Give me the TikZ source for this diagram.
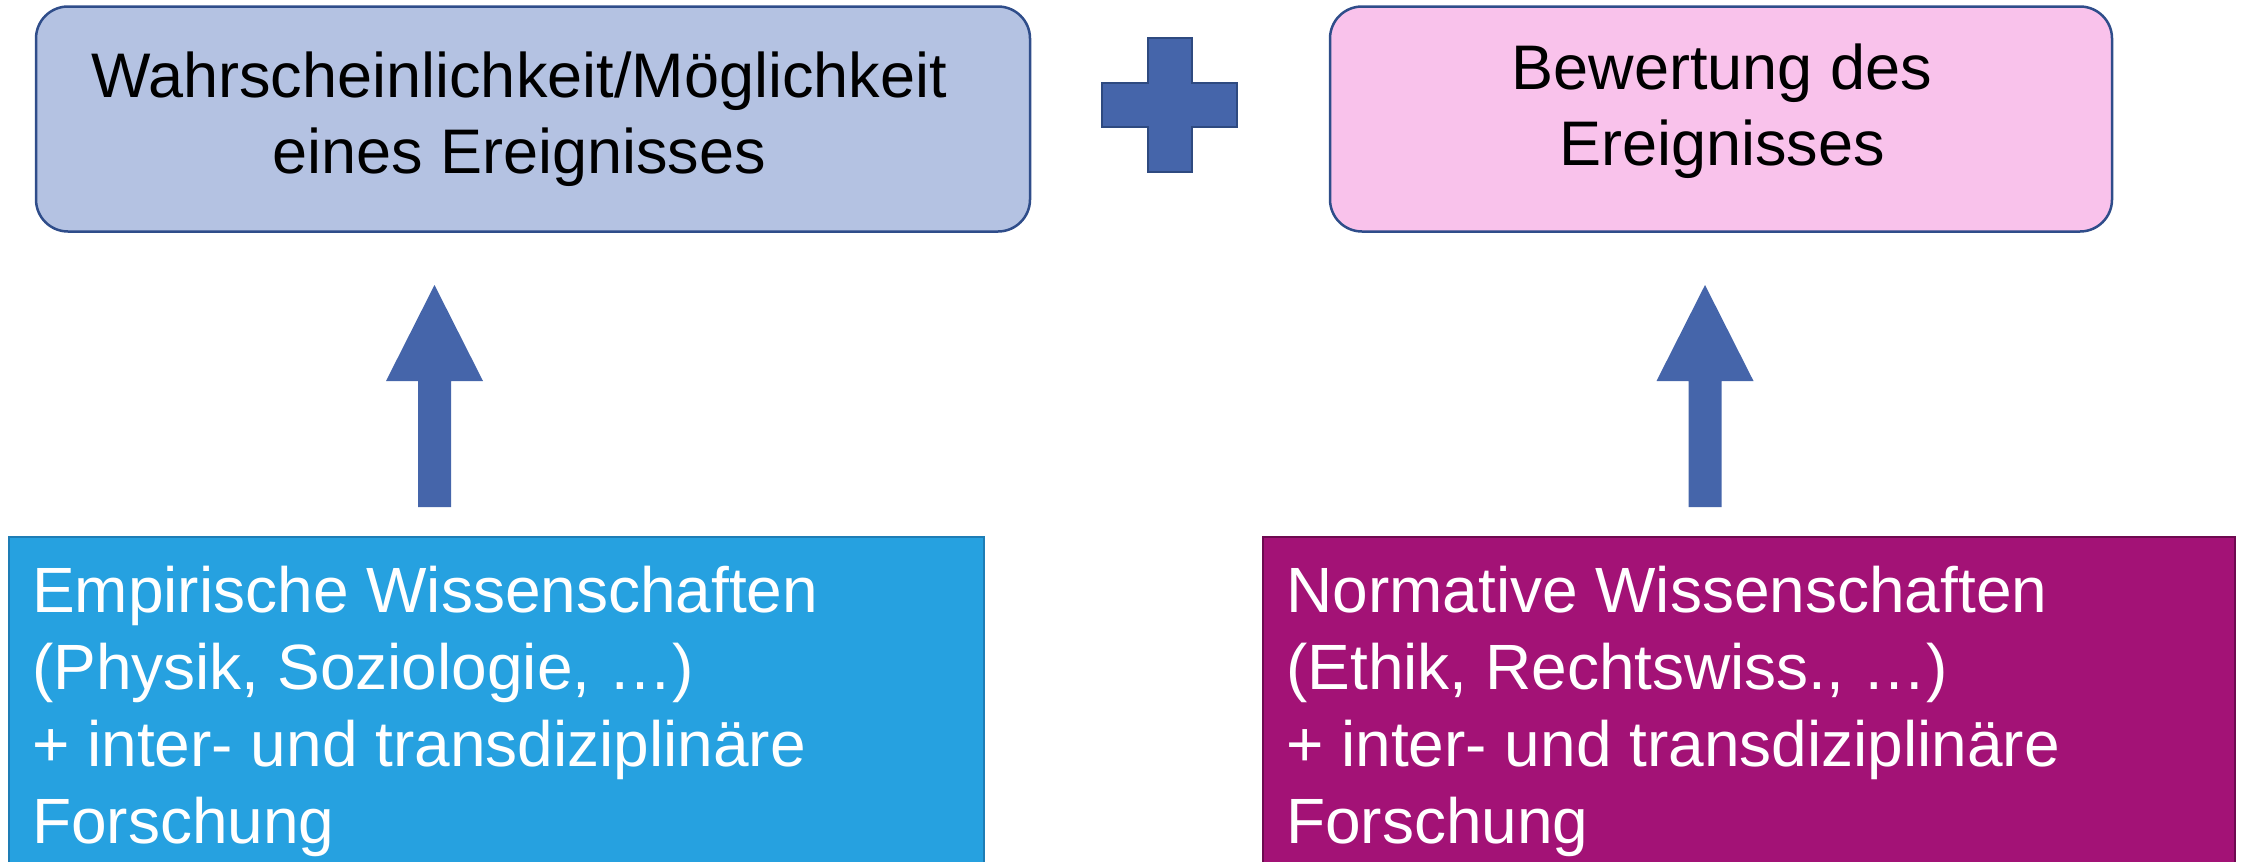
\documentclass[tikz,border=0pt]{standalone}
\usepackage{fontspec}
\setmainfont{Liberation Sans}
\usetikzlibrary{calc}
\definecolor{topblue}{HTML}{B4C2E2}
\definecolor{toppink}{HTML}{F9C2EB}
\definecolor{topedge}{HTML}{2F4D8A}
\definecolor{symfill}{HTML}{4565AA}
\definecolor{symedge}{HTML}{2E4A80}
\definecolor{empfill}{HTML}{26A1E0}
\definecolor{empedge}{HTML}{1E7DB5}
\definecolor{normfill}{HTML}{A31276}
\definecolor{normedge}{HTML}{6E0A50}
\tikzset{
  topbox/.style={draw=topedge, line width=2.5pt, rounded corners=32pt, inner sep=0pt},
  botbox/.style={line width=2pt, inner sep=0pt},
  toptext/.style={inner sep=0pt, align=center, font=\fontsize{63}{76}\selectfont},
  bottext/.style={inner sep=0pt, align=left, text=white, anchor=base west, font=\fontsize{64}{77}\selectfont},
  uparrow/.style={fill=symfill},
  plussign/.style={fill=symfill, draw=symedge, line width=2pt},
}
\begin{document}
\begin{tikzpicture}[x=1pt, y=-1pt]
\useasboundingbox (0,0) rectangle (2241,862);
% top boxes
\node[topbox, fill=topblue, minimum width=994pt, minimum height=225pt] (a) at (533,119) {};
\node[toptext] (at) at (519,119) {Wahrscheinlichkeit/Möglichkeit\\eines Ereignisses};
\node[topbox, fill=toppink, minimum width=782pt, minimum height=225pt] (b) at (1721,119) {};
\node[toptext] (bt) at (1722,111) {Bewertung des\\Ereignisses};
% plus sign
\coordinate (p) at (1169.5,105);
\draw[plussign] ($(p)+(-22,-67)$) -- ($(p)+(22,-67)$) -- ($(p)+(22,-22)$) -- ($(p)+(67.5,-22)$)
  -- ($(p)+(67.5,22)$) -- ($(p)+(22,22)$) -- ($(p)+(22,67)$) -- ($(p)+(-22,67)$)
  -- ($(p)+(-22,22)$) -- ($(p)+(-67.5,22)$) -- ($(p)+(-67.5,-22)$) -- ($(p)+(-22,-22)$) -- cycle;
% bottom boxes
\node[botbox, draw=empedge, fill=empfill, minimum width=975pt, minimum height=360pt, anchor=north west] (c) at (8,536) {};
\node[bottext] (ct) at (32,843) {Empirische Wissenschaften\\(Physik, Soziologie, …)\\+ inter- und transdiziplinäre\\Forschung};
\node[botbox, draw=normedge, fill=normfill, minimum width=972pt, minimum height=360pt, anchor=north west] (d) at (1262,536) {};
\node[bottext] (dt) at (1286,843) {Normative Wissenschaften\\(Ethik, Rechtswiss., …)\\+ inter- und transdiziplinäre\\Forschung};
% arrows
\coordinate (a1) at (434.5,285);
\coordinate (a2) at (1705,285);
\foreach \t in {a1,a2}{
  \fill[uparrow] (\t) -- ($(\t)+(48.5,96)$) -- ($(\t)+(16.5,96)$) -- ($(\t)+(16.5,222)$)
    -- ($(\t)+(-16.5,222)$) -- ($(\t)+(-16.5,96)$) -- ($(\t)+(-48.5,96)$) -- cycle;
}
\end{tikzpicture}
\end{document}
